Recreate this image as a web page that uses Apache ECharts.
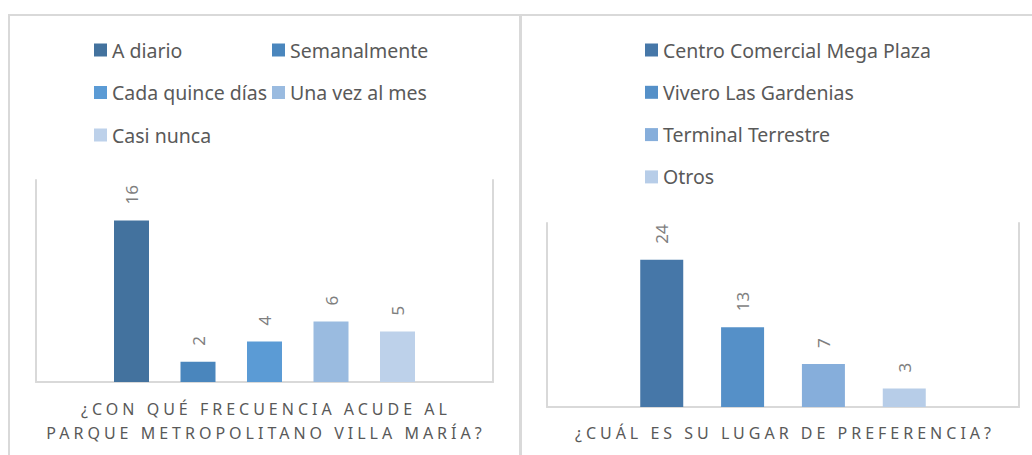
<!DOCTYPE html>
<html>
<head>
<meta charset="utf-8">
<script src="https://cdn.jsdelivr.net/npm/echarts@6/dist/echarts.min.js"></script>
<style>
  html, body { margin: 0; padding: 0; background: #fff; }
  #chart-dom { width: 1032px; height: 455px; }
</style>
</head>
<body>
<div id="chart-dom"></div>
<script>
// datos: frecuencia de visita
const frecuencias = ['A diario', 'Semanalmente', 'Cada quince días', 'Una vez al mes', 'Casi nunca'];
const frecuenciaValores = [16, 2, 4, 6, 5];
const frecuenciaColores = ['#43729e', '#4a86bd', '#5b9bd5', '#9abbe0', '#bdd1ea'];
const tituloFrecuencia = ['¿CON QUÉ FRECUENCIA ACUDE AL', 'PARQUE METROPOLITANO VILLA MARÍA?'];

// datos: lugar de preferencia
const lugares = ['Centro Comercial Mega Plaza', 'Vivero Las Gardenias', 'Terminal Terrestre', 'Otros'];
const lugarValores = [24, 13, 7, 3];
const lugarColores = ['#4677a8', '#5590c8', '#86aedb', '#b7cde8'];
const tituloLugar = ['¿CUÁL ES SU LUGAR DE PREFERENCIA?'];

const font = "'Noto Sans', sans-serif";
const gris = '#d9d9d9';

const myChart = echarts.init(document.getElementById('chart-dom'), null, { renderer: 'svg' });

function etiqueta() {
  return {
    show: true,
    position: 'top',
    distance: 16,
    rotate: 90,
    align: 'left',
    verticalAlign: 'middle',
    color: '#7f7f7f',
    fontSize: 17,
    fontFamily: font
  };
}

function ejes(grid, max) {
  const line = { show: true, lineStyle: { color: gris, width: 2 } };
  return {
    x: {
      gridIndex: grid, type: 'category', data: [''],
      axisLine: line, axisTick: { show: false }, axisLabel: { show: false }
    },
    y: [
      { gridIndex: grid, type: 'value', min: 0, max: max, position: 'left',
        axisLine: line, axisTick: { show: false }, axisLabel: { show: false }, splitLine: { show: false } },
      { gridIndex: grid, type: 'value', min: 0, max: max, position: 'right',
        axisLine: line, axisTick: { show: false }, axisLabel: { show: false }, splitLine: { show: false } }
    ]
  };
}

const ejeA = ejes(0, 20);
const ejeB = ejes(1, 30);

const series = [];
frecuencias.forEach((name, i) => {
  series.push({
    name: name, type: 'bar', xAxisIndex: 0, yAxisIndex: 0,
    data: [frecuenciaValores[i]], barWidth: 35, barGap: '90%',
    itemStyle: { color: frecuenciaColores[i] },
    label: etiqueta()
  });
});
lugares.forEach((name, i) => {
  series.push({
    name: name, type: 'bar', xAxisIndex: 1, yAxisIndex: 2,
    data: [lugarValores[i]], barWidth: 43, barGap: '88%',
    itemStyle: { color: lugarColores[i] },
    label: etiqueta()
  });
});

const leyenda = {
  orient: 'vertical', top: 40, padding: 0, icon: 'rect',
  itemWidth: 13, itemHeight: 13, itemGap: 22.5,
  textStyle: { color: '#595959', fontSize: 19.5, lineHeight: 20, fontFamily: font }
};

const tituloEstilo = { color: '#595959', fontSize: 16, fontWeight: 'normal', lineHeight: 24, fontFamily: font };

const option = {
  animation: false,
  backgroundColor: '#fff',
  title: [
    { text: tituloFrecuencia.join('\n'), left: 266, top: 397, textAlign: 'center', padding: 0, textStyle: tituloEstilo },
    { text: tituloLugar.join('\n'), left: 785, top: 421, textAlign: 'center', padding: 0, textStyle: tituloEstilo }
  ],
  legend: [
    Object.assign({}, leyenda, { left: 94, data: frecuencias.filter((d, i) => i % 2 === 0) }),
    Object.assign({}, leyenda, { left: 272, data: frecuencias.filter((d, i) => i % 2 === 1) }),
    Object.assign({}, leyenda, { left: 645, itemGap: 22.3, data: lugares })
  ],
  grid: [
    { left: 36, top: 180, width: 457, height: 202 },
    { left: 547, top: 223, width: 472, height: 184 }
  ],
  xAxis: [ejeA.x, ejeB.x],
  yAxis: ejeA.y.concat(ejeB.y),
  series: series,
  graphic: [
    { type: 'line', shape: { x1: 8, y1: 15, x2: 1032, y2: 15 }, style: { stroke: gris, lineWidth: 2 } },
    { type: 'line', shape: { x1: 9, y1: 14, x2: 9, y2: 455 }, style: { stroke: gris, lineWidth: 2 } },
    { type: 'line', shape: { x1: 520.5, y1: 14, x2: 520.5, y2: 455 }, style: { stroke: gris, lineWidth: 3 } }
  ]
};

// espaciado entre letras de los títulos de eje
const lineasTitulo = tituloFrecuencia.concat(tituloLugar);
myChart.on('finished', function () {
  document.querySelectorAll('#chart-dom text').forEach(function (t) {
    if (lineasTitulo.indexOf(t.textContent.trim()) >= 0) {
      t.style.letterSpacing = '4px';
    }
  });
});

myChart.setOption(option, true);
</script>
</body>
</html>
